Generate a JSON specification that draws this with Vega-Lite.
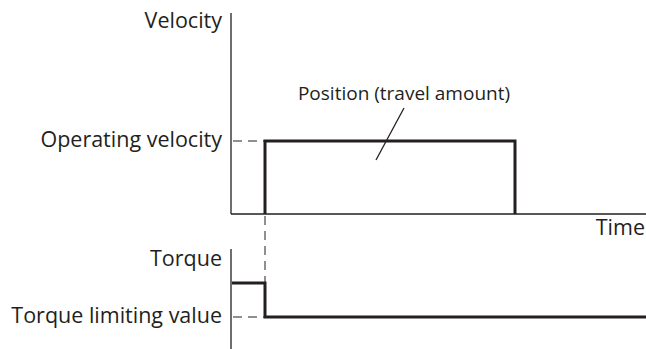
{
  "$schema": "https://vega.github.io/schema/vega-lite/v6.json",
  "width": 646,
  "height": 349,
  "padding": 0,
  "autosize": {"type": "none"},
  "background": "white",
  "config": {"view": {"stroke": null}},
  "datasets": {
    "axes": [
      {"x": 231, "y": 13, "x2": 231, "y2": 214},
      {"x": 231, "y": 214, "x2": 646, "y2": 214},
      {"x": 231, "y": 249, "x2": 231, "y2": 349},
      {"x": 404, "y": 108, "x2": 376, "y2": 160}
    ],
    "dashes": [
      {"x": 233, "y": 141, "x2": 265, "y2": 141},
      {"x": 233, "y": 317, "x2": 265, "y2": 317},
      {"x": 265, "y": 216, "x2": 265, "y2": 283}
    ],
    "signals": [
      {"series": "velocity", "order": 1, "x": 265, "y": 214},
      {"series": "velocity", "order": 2, "x": 265, "y": 141},
      {"series": "velocity", "order": 3, "x": 515, "y": 141},
      {"series": "velocity", "order": 4, "x": 515, "y": 214},
      {"series": "torque", "order": 1, "x": 232, "y": 283},
      {"series": "torque", "order": 2, "x": 265, "y": 283},
      {"series": "torque", "order": 3, "x": 265, "y": 317},
      {"series": "torque", "order": 4, "x": 646, "y": 317}
    ],
    "rlabels": [
      {"x": 222, "y": 22, "label": "Velocity"},
      {"x": 222, "y": 141, "label": "Operating velocity"},
      {"x": 645, "y": 229, "label": "Time"},
      {"x": 222, "y": 260, "label": "Torque"},
      {"x": 222, "y": 317, "label": "Torque limiting value"}
    ],
    "clabels": [
      {"x": 404, "y": 94, "label": "Position (travel amount)"}
    ]
  },
  "encoding": {
    "x": {"field": "x", "type": "quantitative", "scale": {"domain": [0, 646], "nice": false, "zero": false}, "axis": null},
    "y": {"field": "y", "type": "quantitative", "scale": {"domain": [0, 349], "nice": false, "zero": false, "reverse": true}, "axis": null}
  },
  "layer": [
    {
      "data": {"name": "axes"},
      "mark": {"type": "rule", "color": "#231f20", "strokeWidth": 1.3},
      "encoding": {"x2": {"field": "x2"}, "y2": {"field": "y2"}}
    },
    {
      "data": {"name": "dashes"},
      "mark": {"type": "rule", "color": "#231f20", "strokeWidth": 1, "strokeDash": [9, 6]},
      "encoding": {"x2": {"field": "x2"}, "y2": {"field": "y2"}}
    },
    {
      "data": {"name": "signals"},
      "mark": {"type": "line", "color": "#231f20", "strokeWidth": 3, "strokeJoin": "miter", "strokeCap": "butt"},
      "encoding": {
        "detail": {"field": "series"},
        "order": {"field": "order", "type": "quantitative"}
      }
    },
    {
      "data": {"name": "rlabels"},
      "mark": {"type": "text", "align": "right", "baseline": "middle", "font": "Open Sans", "fontSize": 21.5, "color": "#231f20"},
      "encoding": {"text": {"field": "label"}}
    },
    {
      "data": {"name": "clabels"},
      "mark": {"type": "text", "align": "center", "baseline": "middle", "font": "Open Sans", "fontSize": 19, "color": "#231f20"},
      "encoding": {"text": {"field": "label"}}
    }
  ]
}
